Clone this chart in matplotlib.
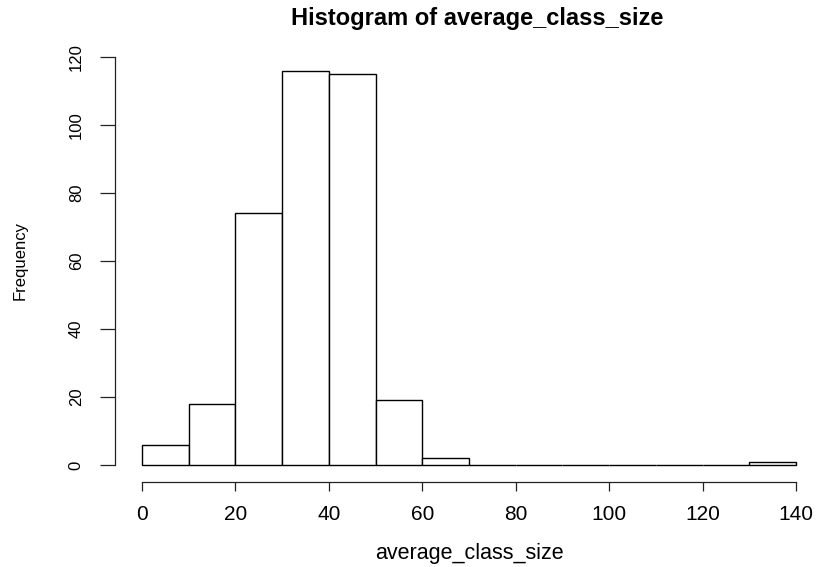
import numpy as np
import matplotlib
matplotlib.use("Agg")
import matplotlib.pyplot as plt

# histogram of average class size, 10-wide bins
bin_edges = [0, 10, 20, 30, 40, 50, 60, 70, 80, 90, 100, 110, 120, 130, 140]
counts = [6, 18, 74, 116, 115, 19, 2, 0, 0, 0, 0, 0, 0, 1]
x_ticks = [0, 20, 40, 60, 80, 100, 120, 140]
y_ticks = [0, 20, 40, 60, 80, 100, 120]

plt.rcParams['font.family'] = ['Liberation Sans', 'DejaVu Sans']

W, H = 818, 567
fig = plt.figure(figsize=(W / 100, H / 100), dpi=100)
# axes box in pixels: x 142..796, y 57..465 (top-down)
ax = fig.add_axes([142 / W, (H - 465) / H, 654 / W, 408 / H])

left = np.array(bin_edges[:-1])
widths = np.diff(bin_edges)
ax.bar(left, counts, width=widths, align='edge', color='white',
       edgecolor='black', linewidth=1.0, clip_on=False)

ax.set_xlim(0, 140)
ax.set_ylim(0, 120)

# R-style detached axes
for s in ('top', 'right'):
    ax.spines[s].set_visible(False)
ax.spines['bottom'].set_position(('outward', 12.2))
ax.spines['left'].set_position(('outward', 19.4))
ax.spines['bottom'].set_bounds(0, 140)
ax.spines['left'].set_bounds(0, 120)
for s in ('bottom', 'left'):
    ax.spines[s].set_linewidth(0.9)
    ax.spines[s].set_color('#222222')

ax.set_xticks(x_ticks)
ax.set_yticks(y_ticks)
ax.tick_params(axis='x', length=6.5, width=0.9, pad=10, labelsize=15, color='#222222')
ax.tick_params(axis='y', length=10.5, width=0.9, pad=12, labelsize=12, color='#222222')
for lab in ax.get_yticklabels():
    lab.set_rotation(90)
    lab.set_va('center')

fig.text(469 / W, 1 - 553 / H, 'average_class_size', ha='center', va='center', fontsize=15.5)
fig.text(20 / W, 1 - 261 / H, 'Frequency', ha='center', va='center', rotation=90, fontsize=12)
fig.text(477 / W, 1 - 18 / H, 'Histogram of average_class_size', ha='center', va='center',
         fontsize=17, fontweight='bold')

fig.savefig('out.png', dpi=100)
